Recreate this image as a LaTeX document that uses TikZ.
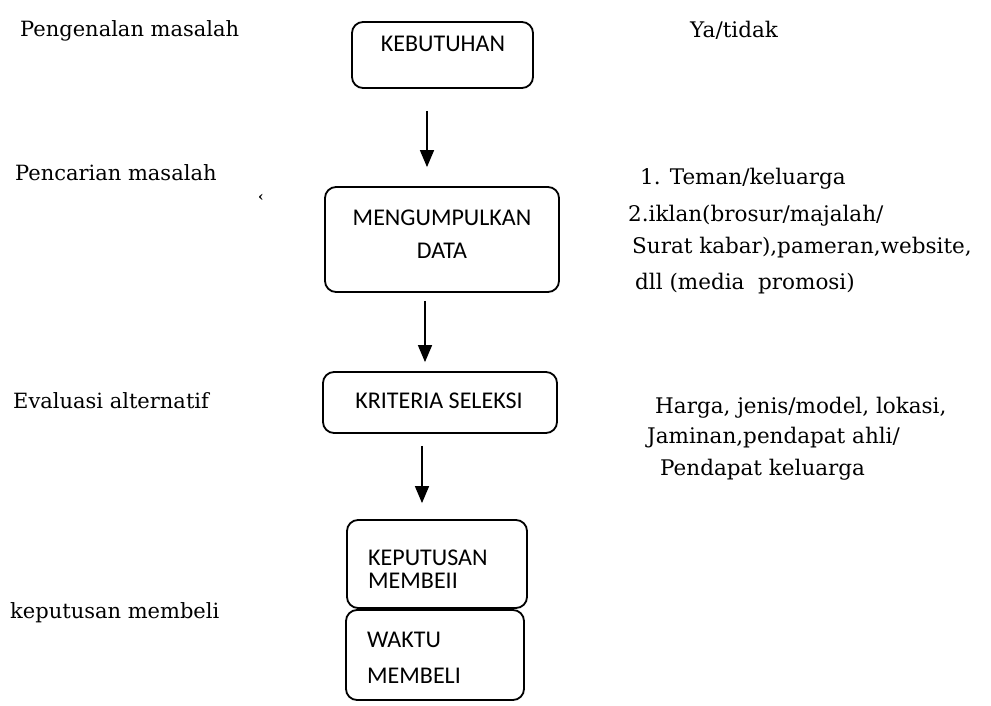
\documentclass[tikz,border=0pt]{standalone}
\usepackage{fontspec}
\setmainfont{DejaVu Serif}
\newfontfamily\boxfont{Carlito}
\usetikzlibrary{arrows.meta}
\begin{document}
\begin{tikzpicture}[x=1pt,y=-1pt,
  stagebox/.style={draw,line width=1.8pt,rounded corners=11pt,inner sep=0pt},
  boxtext/.style={font=\boxfont\fontsize{24}{24}\selectfont,inner sep=0pt},
  lefttext/.style={font=\fontsize{21}{21}\selectfont,inner sep=0pt,anchor=base west},
  sidetext/.style={font=\fontsize{21.5}{21.5}\selectfont,inner sep=0pt,anchor=base west},
  arr/.style={line width=1.5pt,-{Triangle[length=17pt,width=14pt]}}]
\useasboundingbox (0,0) rectangle (991,706);

% stage boxes
\node[stagebox,minimum width=181pt,minimum height=66pt]  (b1) at (442.5,55) {};
\node[stagebox,minimum width=234pt,minimum height=105pt] (b2) at (442,239.5) {};
\node[stagebox,minimum width=234pt,minimum height=61pt]  (b3) at (440,402.5) {};
\node[stagebox,minimum width=180pt,minimum height=88pt]  (b4) at (437,564) {};
\node[stagebox,minimum width=178pt,minimum height=90pt]  (b5) at (435,655) {};

% box captions
\node[boxtext,anchor=base] (t1) at (443,52) {KEBUTUHAN};
\node[boxtext,anchor=base] (t2a) at (442,225) {MENGUMPULKAN};
\node[boxtext,anchor=base] (t2b) at (442,258) {DATA};
\node[boxtext,anchor=base] (t3) at (439,408) {KRITERIA SELEKSI};
\node[boxtext,anchor=base west] (t4a) at (368,565) {KEPUTUSAN};
\node[boxtext,anchor=base west] (t4b) at (368,588) {MEMBEII};
\node[boxtext,anchor=base west] (t5a) at (367,647) {WAKTU};
\node[boxtext,anchor=base west] (t5b) at (367,683) {MEMBELI};

% connectors
\draw[arr,shorten <=22pt,shorten >=19pt] ([xshift=-15.5pt]b1.south) -- ([xshift=-15.5pt]b1.south |- b2.north);
\draw[arr,shorten <=8pt,shorten >=9pt] ([xshift=-17pt]b2.south) -- ([xshift=-17pt]b2.south |- b3.north);
\draw[arr,shorten <=12pt,shorten >=16pt] ([xshift=-18pt]b3.south) -- ([xshift=-18pt]b3.south |- b4.north);

% stage names
\node[lefttext] (l1) at (20,37) {Pengenalan masalah};
\node[lefttext] (l2) at (15,180) {Pencarian masalah};
\node[lefttext] (l3) at (13,408) {Evaluasi alternatif};
\node[lefttext] (l4) at (10,618) {keputusan membeli};
\node[inner sep=0pt,font=\bfseries\fontsize{14}{14}\selectfont] (mk) at (261,198) {‹};

% stage details
\node[sidetext] (r1) at (690,38) {Ya/tidak};
\node[sidetext] (r2) at (640,185) {1. Teman/keluarga};
\node[sidetext] (r3) at (628,222) {2.iklan(brosur/majalah/};
\node[sidetext] (r4) at (632,253) {Surat kabar),pameran,website,};
\node[sidetext] (r5) at (635,289) {dll (media\ \ promosi)};
\node[sidetext] (r6) at (655,413) {Harga, jenis/model, lokasi,};
\node[sidetext] (r7) at (647,443) {Jaminan,pendapat ahli/};
\node[sidetext] (r8) at (660,475) {Pendapat keluarga};
\end{tikzpicture}
\end{document}
